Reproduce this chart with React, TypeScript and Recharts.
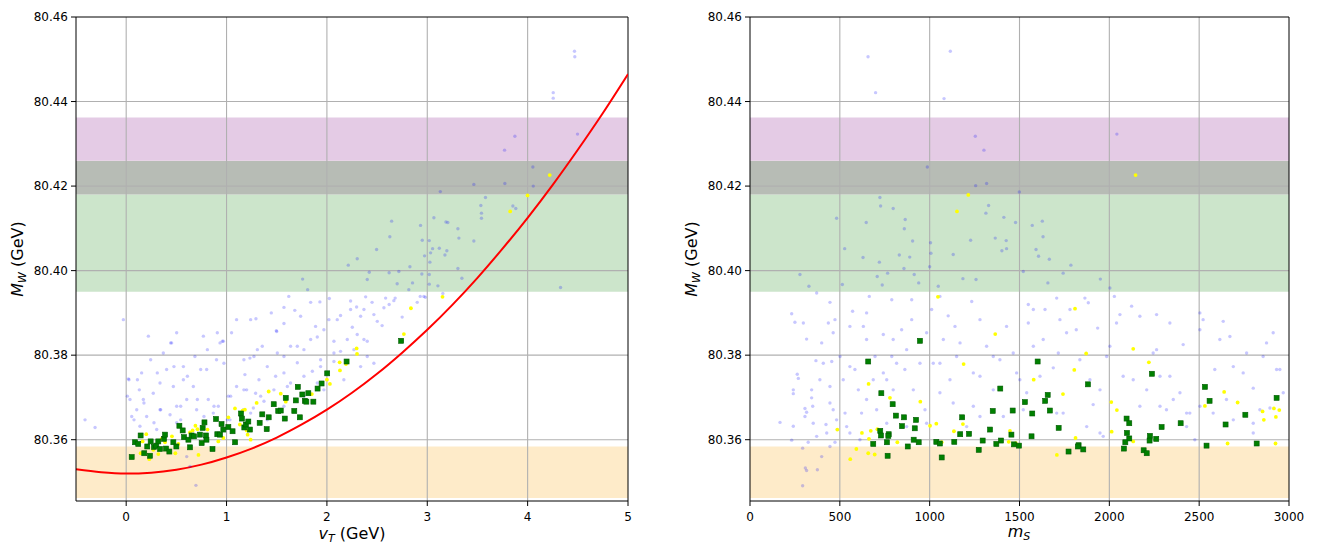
import React from "react";
import {
  ComposedChart,
  Scatter,
  Line,
  XAxis,
  YAxis,
  ReferenceArea,
  ReferenceLine,
} from "recharts";

// ---------- axis ticks ----------
const leftXTicks = [0, 1, 2, 3, 4, 5];
const rightXTicks = [0, 500, 1000, 1500, 2000, 2500, 3000];
const yTicks = [80.36, 80.38, 80.4, 80.42, 80.44, 80.46];
const leftXDomain = [-0.5, 5];
const rightXDomain = [0, 3000];
const yDomain = [80.3455, 80.46];

// ---------- horizontal bands [low, high] ----------
const purpleBand = [80.426, 80.4362];
const grayBand = [80.418, 80.426];
const greenBand = [80.395, 80.418];
const orangeBand = [80.3462, 80.3584];

// ---------- red curve (left panel) ----------
const curveX = [-0.5, -0.25, 0, 0.25, 0.5, 0.75, 1, 1.25, 1.5, 1.75, 2, 2.25, 2.5, 2.75, 3, 3.25, 3.5, 3.75, 4, 4.25, 4.5, 4.75, 5];
const curveY = [80.353, 80.3523, 80.352, 80.3522, 80.3529, 80.3541, 80.3558, 80.3579, 80.3605, 80.3636, 80.3671, 80.3711, 80.3756, 80.3806, 80.386, 80.3919, 80.3983, 80.4052, 80.4125, 80.4203, 80.4286, 80.4373, 80.4465];

// ---------- left panel points [vT, MW] ----------
const leftGreen = [
  [0.055, 80.3559], [0.088, 80.3594], [0.12, 80.359], [0.144, 80.361], [0.18, 80.3568], [0.21, 80.3584], [0.237, 80.3562], [0.244, 80.3596], [0.277, 80.3583], [0.3, 80.3586], [0.32, 80.3596], [0.337, 80.3578], [0.377, 80.3602], [0.387, 80.3612], [0.397, 80.3579], [0.43, 80.3572], [0.47, 80.3594], [0.5, 80.3584], [0.53, 80.3633], [0.563, 80.3622], [0.576, 80.3606], [0.62, 80.36], [0.636, 80.3582], [0.652, 80.361], [0.676, 80.3608], [0.735, 80.3612], [0.752, 80.3592], [0.762, 80.3628], [0.78, 80.3641], [0.795, 80.361], [0.8, 80.36], [0.86, 80.3578], [0.895, 80.3649], [0.908, 80.3613], [0.935, 80.3612], [0.95, 80.3637], [0.968, 80.3624], [1.018, 80.363], [1.06, 80.362], [1.085, 80.3594], [1.144, 80.3662], [1.153, 80.365], [1.177, 80.3629], [1.193, 80.3636], [1.217, 80.3643], [1.233, 80.3624],
  [1.33, 80.364], [1.356, 80.366], [1.4, 80.3625], [1.42, 80.3653], [1.47, 80.3684], [1.515, 80.3668], [1.54, 80.3669], [1.58, 80.365], [1.59, 80.3699], [1.675, 80.3668], [1.69, 80.3693], [1.71, 80.3725], [1.73, 80.3653], [1.755, 80.3707], [1.78, 80.3692], [1.795, 80.369], [1.815, 80.371], [1.865, 80.369], [1.907, 80.3721], [1.947, 80.3733], [2.003, 80.3757], [2.196, 80.3785], [2.74, 80.3834],
];
const leftYellow = [
  [0.144, 80.3568], [0.164, 80.3596], [0.2, 80.3613], [0.23, 80.3554], [0.27, 80.3576], [0.32, 80.3566], [0.354, 80.3602], [0.387, 80.3594], [0.456, 80.3608], [0.49, 80.3568], [0.52, 80.359], [0.636, 80.3617], [0.662, 80.3622], [0.69, 80.3633], [0.71, 80.3625], [0.72, 80.3564], [0.81, 80.3624], [0.918, 80.3596], [0.968, 80.3604], [1.018, 80.3653], [1.084, 80.3674], [1.133, 80.3636], [1.16, 80.3669], [1.183, 80.3671], [1.2, 80.3622], [1.21, 80.3612], [1.24, 80.36], [1.3, 80.3687], [1.42, 80.3714], [1.54, 80.3709], [1.59, 80.369], [1.85, 80.3708], [2.0, 80.3742], [2.03, 80.3732], [2.127, 80.3783], [2.13, 80.3764], [2.19, 80.3779], [2.296, 80.3816], [2.3, 80.3803], [2.767, 80.385], [2.837, 80.3911], [3.152, 80.3938], [3.826, 80.414], [3.999, 80.4178], [4.22, 80.4226],
];
const leftBlue = [
  [4.467, 80.4519], [4.47, 80.4506], [4.255, 80.4421], [4.255, 80.4408], [3.873, 80.4318], [3.77, 80.4285], [4.497, 80.4323], [4.052, 80.4245], [4.056, 80.42], [3.773, 80.4206], [3.464, 80.4204], [3.13, 80.4187], [3.58, 80.4173], [3.534, 80.4154], [3.54, 80.4136], [3.54, 80.4124], [3.853, 80.4153], [3.882, 80.4147], [3.066, 80.4125], [3.186, 80.4115], [3.205, 80.4114], [2.933, 80.4107], [3.305, 80.4099], [3.315, 80.4077], [3.464, 80.407], [2.95, 80.4072], [3.02, 80.4071], [3.053, 80.4052], [3.12, 80.4053], [3.195, 80.4047], [3.176, 80.4037], [3.033, 80.4042], [2.973, 80.4035], [3.026, 80.402], [2.946, 80.3992], [3.02, 80.3991], [3.305, 80.4005], [3.345, 80.3982], [3.02, 80.3968], [3.106, 80.3964], [4.328, 80.396], [2.93, 80.3939], [2.98, 80.3937], [3.155, 80.3946],
  [2.645, 80.4117], [2.627, 80.408], [2.495, 80.405], [2.302, 80.4028], [2.827, 80.4009], [2.213, 80.4013], [2.422, 80.3996], [2.62, 80.3995], [2.717, 80.3998], [2.402, 80.3979], [1.758, 80.398], [1.808, 80.3955], [2.7, 80.3969], [2.853, 80.3971], [2.816, 80.3955],
  [1.62, 80.3939], [1.838, 80.3925], [1.93, 80.3926], [2.024, 80.3934], [2.236, 80.3928], [2.386, 80.3938], [2.585, 80.3935], [2.667, 80.3929], [2.966, 80.3939], [1.572, 80.3913], [1.68, 80.3906], [1.293, 80.3886], [1.446, 80.39], [1.496, 80.3858], [1.572, 80.3875], [1.738, 80.3892], [1.887, 80.3868], [2.02, 80.3884], [2.136, 80.3894], [2.253, 80.3866], [2.296, 80.3914], [2.369, 80.3908], [2.468, 80.3896], [2.502, 80.388], [2.568, 80.3912], [2.302, 80.3849], [2.402, 80.3833], [2.203, 80.3837], [2.07, 80.3833], [1.904, 80.3843], [1.771, 80.3813], [1.638, 80.3821], [1.506, 80.3805], [1.356, 80.3821], [1.273, 80.3797], [1.406, 80.3773], [1.572, 80.3758], [1.705, 80.3782], [1.855, 80.3762], [1.937, 80.3789], [2.07, 80.3785], [2.136, 80.3809], [2.468, 80.3781], [1.323, 80.3742], [1.489, 80.375], [1.606, 80.3726], [1.29, 80.371], [1.373, 80.3691], [1.267, 80.3675], [1.771, 80.375], [1.904, 80.3734],
  [-0.028, 80.3884], [-0.41, 80.3647], [-0.31, 80.3629], [0.695, 80.3492], [0.453, 80.3829], [0.37, 80.3805], [0.244, 80.3789], [0.022, 80.3744], [0.131, 80.3718], [0.171, 80.3695], [0.27, 80.371], [0.337, 80.3734], [0.47, 80.3726], [0.57, 80.3742], [0.685, 80.3797], [0.802, 80.3766], [0.9, 80.3789], [0.935, 80.3829], [1.05, 80.3853], [1.1, 80.3884], [1.183, 80.3754], [1.233, 80.3793], [0.105, 80.3671], [0.204, 80.3655], [0.337, 80.3671], [0.437, 80.3659], [0.503, 80.3679], [0.603, 80.3695], [0.702, 80.3671], [0.818, 80.3695], [0.918, 80.3679], [1.018, 80.3703], [1.1, 80.3726], [1.2, 80.3718], [0.669, 80.3726], [0.57, 80.3773], [0.403, 80.3766], [0.154, 80.3758], [0.038, 80.3695], [0.055, 80.3655], [0.304, 80.3624], [0.137, 80.3632], [0.503, 80.364], [0.868, 80.3663], [1.034, 80.3647], [1.167, 80.3671], [0.221, 80.3845], [0.503, 80.3853], [0.769, 80.3845], [0.968, 80.3833], [0.636, 80.3537], [0.603, 80.356],
  [1.5, 80.3856], [1.24, 80.3884], [0.908, 80.3853], [0.958, 80.3833], [0.809, 80.3813], [0.443, 80.3829], [0.112, 80.3742], [0.31, 80.3758], [0.476, 80.3773], [0.61, 80.375], [0.742, 80.3766], [0.974, 80.3781], [1.173, 80.3789], [1.307, 80.3813], [1.572, 80.3797], [1.705, 80.3821], [1.838, 80.3837], [1.97, 80.386], [2.103, 80.3884], [2.236, 80.3908], [2.336, 80.3892], [2.369, 80.3837], [2.269, 80.3813], [2.07, 80.3805], [1.937, 80.3773], [1.638, 80.3734], [1.472, 80.3718], [1.34, 80.3703], [1.173, 80.3718], [1.041, 80.3703], [0.875, 80.3679], [0.709, 80.3695], [0.543, 80.3679], [0.344, 80.3671], [0.177, 80.3687], [0.078, 80.3647], [0.277, 80.364], [0.543, 80.3647], [0.775, 80.3655], [1.008, 80.3647], [1.24, 80.3663], [1.406, 80.3647], [1.572, 80.3679], [1.771, 80.3703], [1.97, 80.3718], [2.169, 80.3742], [2.336, 80.3773], [2.402, 80.3797], [0.012, 80.3703], [0.028, 80.3742], [2.62, 80.392], [2.75, 80.389], [2.9, 80.3925], [2.55, 80.387], [2.68, 80.3935], [2.45, 80.3925],
];

// ---------- right panel points [mS, MW] ----------
const rightGreen = [
  [946, 80.3834], [658, 80.3785], [731, 80.371], [794, 80.3684], [812, 80.3657], [857, 80.3653], [924, 80.3647], [846, 80.3632], [917, 80.3627], [725, 80.3621], [772, 80.3613], [729, 80.361], [770, 80.3609], [686, 80.359], [762, 80.3594], [878, 80.3584], [939, 80.3594], [766, 80.3562], [911, 80.36], [1037, 80.3595], [1057, 80.3591], [1067, 80.3558], [1137, 80.3595], [1181, 80.3653], [1170, 80.3613], [1219, 80.3614], [1273, 80.3576], [1295, 80.3598], [1336, 80.3624], [1351, 80.3668], [1371, 80.359], [1397, 80.3598], [1393, 80.3721], [1462, 80.3669], [1455, 80.3612], [1469, 80.3589], [1497, 80.3586], [1530, 80.3689], [1571, 80.3662], [1567, 80.3608], [1601, 80.3785], [1657, 80.3706], [1643, 80.3692], [1669, 80.3669], [1718, 80.3628], [1881, 80.3731], [1829, 80.3587], [1825, 80.3584], [1773, 80.3572], [1855, 80.3577], [2237, 80.3756], [2096, 80.365], [2111, 80.3639], [2098, 80.3616], [2111, 80.3603], [2089, 80.3594], [2081, 80.3579], [2191, 80.3575], [2208, 80.3568], [2226, 80.3609], [2224, 80.3598], [2261, 80.3602], [2291, 80.363], [2397, 80.3639], [2532, 80.3725], [2558, 80.3692], [2541, 80.3586], [2647, 80.3636], [2757, 80.3659], [2820, 80.3591], [2931, 80.3699],
];
const rightYellow = [
  [1046, 80.3938], [1365, 80.385], [1189, 80.3779], [660, 80.3732], [948, 80.369], [779, 80.3699], [486, 80.3624], [623, 80.3616], [672, 80.3621], [709, 80.3625], [662, 80.3602], [820, 80.3594], [592, 80.3578], [658, 80.3568], [694, 80.3565], [558, 80.3554], [1002, 80.3633], [1037, 80.3638], [1135, 80.362], [1185, 80.3637], [1067, 80.3594], [1447, 80.3621], [1440, 80.3595], [1479, 80.3592], [1579, 80.3742], [1809, 80.391], [1871, 80.3804], [1805, 80.3765], [1742, 80.3708], [1812, 80.3604], [1708, 80.3564], [2133, 80.3815], [2220, 80.3783], [2011, 80.3689], [2042, 80.367], [2013, 80.3619], [2133, 80.3596], [2532, 80.368], [2639, 80.3713], [2714, 80.3688], [2658, 80.3591], [2853, 80.3667], [2860, 80.3647], [2916, 80.3674], [2946, 80.367], [2927, 80.3654], [2925, 80.3591], [1215, 80.4179], [1152, 80.414], [2146, 80.4226],
];
const rightBlue = [
  [657, 80.4506], [1115, 80.4519], [699, 80.4421], [1080, 80.4407], [1254, 80.4318], [1302, 80.4285], [987, 80.4245], [1256, 80.4201], [1317, 80.4206], [1499, 80.4186], [723, 80.4173], [727, 80.4153], [797, 80.4147], [482, 80.4124], [647, 80.4114], [864, 80.4121], [859, 80.4099], [1328, 80.4154], [1313, 80.4136], [1413, 80.4126], [1478, 80.4114], [905, 80.407], [1005, 80.4066], [1228, 80.4072], [1365, 80.4077], [1426, 80.4071], [1428, 80.4052], [1402, 80.4047], [527, 80.4052], [629, 80.4031], [831, 80.4037], [889, 80.4032], [1007, 80.4041], [1131, 80.4038], [720, 80.402], [857, 80.4005], [1000, 80.4009], [278, 80.3991], [766, 80.3994], [914, 80.3991], [708, 80.3986], [1185, 80.3981], [1258, 80.3979], [328, 80.3963], [514, 80.3967], [736, 80.3966], [939, 80.3971], [1048, 80.3963],
  [2042, 80.4323], [1627, 80.4117], [1571, 80.4107], [1631, 80.408], [1592, 80.405], [1606, 80.4034], [1666, 80.4027], [1786, 80.4013], [1521, 80.3998], [1743, 80.3994], [1658, 80.3971], [1950, 80.398], [2003, 80.3959],
  [167, 80.3641], [232, 80.3898], [250, 80.3878], [263, 80.3755], [269, 80.3745], [241, 80.3718], [241, 80.3709], [241, 80.3632], [232, 80.3599], [297, 80.3876], [315, 80.3838], [306, 80.3674], [315, 80.3665], [306, 80.3655], [324, 80.3594], [293, 80.358], [308, 80.3533], [315, 80.3527], [293, 80.3491], [375, 80.3529], [399, 80.356], [371, 80.3947], [399, 80.3829], [367, 80.3787], [343, 80.3699], [349, 80.3679], [352, 80.3639], [371, 80.3608], [423, 80.3636], [427, 80.3616], [436, 80.3876], [445, 80.3925], [455, 80.3785], [445, 80.3687], [473, 80.3884], [473, 80.3594], [501, 80.3797], [519, 80.3742], [529, 80.3663], [556, 80.3773], [571, 80.3904], [584, 80.3766], [603, 80.3718], [631, 80.3868], [649, 80.3837], [621, 80.3663], [664, 80.3939], [686, 80.3742], [696, 80.3797], [742, 80.3849], [761, 80.3742], [789, 80.3797], [797, 80.3718], [816, 80.3781], [844, 80.386], [872, 80.3813], [900, 80.3884], [900, 80.3931], [946, 80.3781], [974, 80.3671], [983, 80.3853], [1011, 80.3908], [1020, 80.3781], [1057, 80.3711], [1076, 80.3837], [1103, 80.3893], [1113, 80.3742], [1141, 80.3868], [1169, 80.3829], [1206, 80.3631], [1234, 80.3927], [1243, 80.3758], [1280, 80.375], [1280, 80.3655], [1317, 80.3821], [1354, 80.3797], [1410, 80.3655], [1428, 80.3868], [1465, 80.3805], [1502, 80.3742], [1521, 80.3671], [1549, 80.392], [1577, 80.3908], [1549, 80.3876],
  [1642, 80.3908], [1707, 80.3935], [1781, 80.3908], [1864, 80.3935], [1883, 80.3924], [1725, 80.3884], [1816, 80.386], [1935, 80.3864], [2028, 80.3939], [2059, 80.3896], [2124, 80.3916], [2170, 80.3892], [2263, 80.3896], [2337, 80.3876], [2411, 80.3825], [2504, 80.386], [2522, 80.3884], [2634, 80.388], [2671, 80.3844], [2764, 80.3805], [2875, 80.3829], [2912, 80.3853], [1614, 80.375], [1688, 80.377], [1743, 80.3663], [1910, 80.3683], [1948, 80.3616], [1966, 80.3608], [1985, 80.3797], [2077, 80.375], [2133, 80.3742], [2208, 80.3718], [2282, 80.3679], [2337, 80.375], [2393, 80.3711], [2448, 80.3663], [2430, 80.3631], [2476, 80.36], [2504, 80.3679], [2587, 80.3766], [2652, 80.3695], [2690, 80.3773], [2745, 80.3758], [2801, 80.3722], [2838, 80.3671], [2894, 80.3675], [2931, 80.3766], [2968, 80.3711], [2578, 80.3663], [2801, 80.3639], [2244, 80.3805],
  [482, 80.3647], [538, 80.3631], [649, 80.3695], [705, 80.3671], [742, 80.3758], [797, 80.3837], [862, 80.3766], [909, 80.3718], [983, 80.3639], [1057, 80.3781], [1131, 80.3687], [1150, 80.3797], [1243, 80.3679], [1280, 80.3884], [1354, 80.3718], [1391, 80.3789], [1484, 80.3758], [1540, 80.3711], [1577, 80.3821], [1057, 80.3939], [789, 80.3931], [649, 80.39], [556, 80.3868], [463, 80.3853], [408, 80.3781], [389, 80.3742], [445, 80.3726], [343, 80.3718], [463, 80.3671], [556, 80.3616], [612, 80.36], [761, 80.3639], [872, 80.3631], [445, 80.3584],
  [1632, 80.3837], [1716, 80.3805], [1762, 80.3853], [1836, 80.3789], [1892, 80.3742], [1948, 80.3718], [2003, 80.3821], [2040, 80.3876], [2170, 80.3679], [2263, 80.3813], [2318, 80.3671], [2356, 80.3695], [2430, 80.3663], [2690, 80.3647], [2801, 80.3616], [2856, 80.3797], [2949, 80.3766], [2504, 80.39], [2615, 80.3837], [1707, 80.3663], [1874, 80.3631], [2282, 80.375],
];

// ---------- helpers ----------
const toPts = (arr: number[][]) => arr.map(([x, y]) => ({ x, y }));
const curveData = curveX.map((x, i) => ({ x, y: curveY[i] }));

const FONT = "DejaVu Sans, sans-serif";

const BlueDot = (p: any) => (
  <circle cx={p.cx} cy={p.cy} r={1.7} fill="#0000ff" fillOpacity={0.22} />
);
const YellowDot = (p: any) => (
  <circle cx={p.cx} cy={p.cy} r={1.9} fill="#ffff00" />
);
const GreenSq = (p: any) => (
  <rect x={p.cx - 2.5} y={p.cy - 2.5} width={5} height={5} fill="#008000" stroke="#005a00" strokeWidth={0.6} />
);

function Panel(props: {
  xDomain: number[];
  xTicks: number[];
  blue: number[][];
  yellow: number[][];
  green: number[][];
  withCurve: boolean;
  margin: any;
  width: number;
  left: number;
}) {
  const { xDomain, xTicks, blue, yellow, green, withCurve, margin, width, left } = props;
  const gridX = xTicks.filter((t) => t > xDomain[0] && t < xDomain[1]);
  const gridY = yTicks.filter((t) => t < yDomain[1]);
  return (
    <div style={{ position: "absolute", left, top: 0 }}>
      <ComposedChart width={width} height={545} margin={margin}>
        <XAxis
          type="number"
          dataKey="x"
          domain={xDomain}
          ticks={xTicks}
          allowDataOverflow
          height={44}
          tickSize={5}
          tickMargin={6}
          axisLine={{ stroke: "#000", strokeWidth: 1 }}
          tickLine={{ stroke: "#000" }}
          tick={{ fill: "#000", fontSize: 12, fontFamily: FONT }}
        />
        <YAxis
          type="number"
          dataKey="y"
          domain={yDomain}
          ticks={yTicks}
          allowDataOverflow
          width={60}
          tickSize={5}
          tickMargin={3}
          tickFormatter={(v: number) => v.toFixed(2)}
          axisLine={{ stroke: "#000", strokeWidth: 1 }}
          tickLine={{ stroke: "#000" }}
          tick={{ fill: "#000", fontSize: 12, fontFamily: FONT }}
        />
        <ReferenceArea y1={orangeBand[0]} y2={orangeBand[1]} fill="#feebc9" fillOpacity={1} stroke="none" />
        <ReferenceArea y1={greenBand[0]} y2={greenBand[1]} fill="#cce5cb" fillOpacity={1} stroke="none" />
        <ReferenceArea y1={grayBand[0]} y2={grayBand[1]} fill="#b7bcb5" fillOpacity={1} stroke="none" />
        <ReferenceArea y1={purpleBand[0]} y2={purpleBand[1]} fill="#e4cbe5" fillOpacity={1} stroke="none" />
        {gridX.map((t) => (
          <ReferenceLine key={"gx" + t} x={t} stroke="#b0b0b0" strokeWidth={1.1} />
        ))}
        {gridY.map((t) => (
          <ReferenceLine key={"gy" + t} y={t} stroke="#b0b0b0" strokeWidth={1.1} />
        ))}
        <ReferenceLine x={xDomain[1]} stroke="#000" strokeWidth={1} />
        <ReferenceLine y={yDomain[1]} stroke="#000" strokeWidth={1} />
        <Scatter data={toPts(blue)} dataKey="y" shape={BlueDot} isAnimationActive={false} />
        <Scatter data={toPts(yellow)} dataKey="y" shape={YellowDot} isAnimationActive={false} />
        <Scatter data={toPts(green)} dataKey="y" shape={GreenSq} isAnimationActive={false} />
        {withCurve && (
          <Line
            data={curveData}
            dataKey="y"
            type="monotone"
            stroke="#ff0000"
            strokeWidth={2}
            dot={false}
            activeDot={false}
            isAnimationActive={false}
          />
        )}
      </ComposedChart>
    </div>
  );
}

export default function App() {
  return (
    <div style={{ position: "absolute", left: 0, top: 0, width: 1317, height: 545, background: "#fff", overflow: "hidden" }}>
      <Panel
        xDomain={leftXDomain}
        xTicks={leftXTicks}
        blue={leftBlue}
        yellow={leftYellow}
        green={leftGreen}
        withCurve={true}
        margin={{ top: 17, right: 32, left: 16, bottom: 0 }}
        width={660}
        left={0}
      />
      <Panel
        xDomain={rightXDomain}
        xTicks={rightXTicks}
        blue={rightBlue}
        yellow={rightYellow}
        green={rightGreen}
        withCurve={false}
        margin={{ top: 17, right: 28, left: 30, bottom: 0 }}
        width={657}
        left={660}
      />
      <svg width={1317} height={545} style={{ position: "absolute", left: 0, top: 0, pointerEvents: "none" }} fontFamily={FONT}>
        <text x={352} y={539} textAnchor="middle" fontSize={16} fill="#000">
          <tspan fontStyle="italic">v</tspan>
          <tspan fontStyle="italic" fontSize={11} dy={3}>T</tspan>
          <tspan dy={-3}> (GeV)</tspan>
        </text>
        <text x={1019} y={537} textAnchor="middle" fontSize={16} fill="#000">
          <tspan fontStyle="italic">m</tspan>
          <tspan fontStyle="italic" fontSize={11} dy={3}>S</tspan>
        </text>
        <text transform="translate(23,259) rotate(-90)" textAnchor="middle" fontSize={16} fill="#000">
          <tspan fontStyle="italic">M</tspan>
          <tspan fontStyle="italic" fontSize={11} dy={3}>W</tspan>
          <tspan dy={-3}> (GeV)</tspan>
        </text>
        <text transform="translate(697,259) rotate(-90)" textAnchor="middle" fontSize={16} fill="#000">
          <tspan fontStyle="italic">M</tspan>
          <tspan fontStyle="italic" fontSize={11} dy={3}>W</tspan>
          <tspan dy={-3}> (GeV)</tspan>
        </text>
      </svg>
    </div>
  );
}
